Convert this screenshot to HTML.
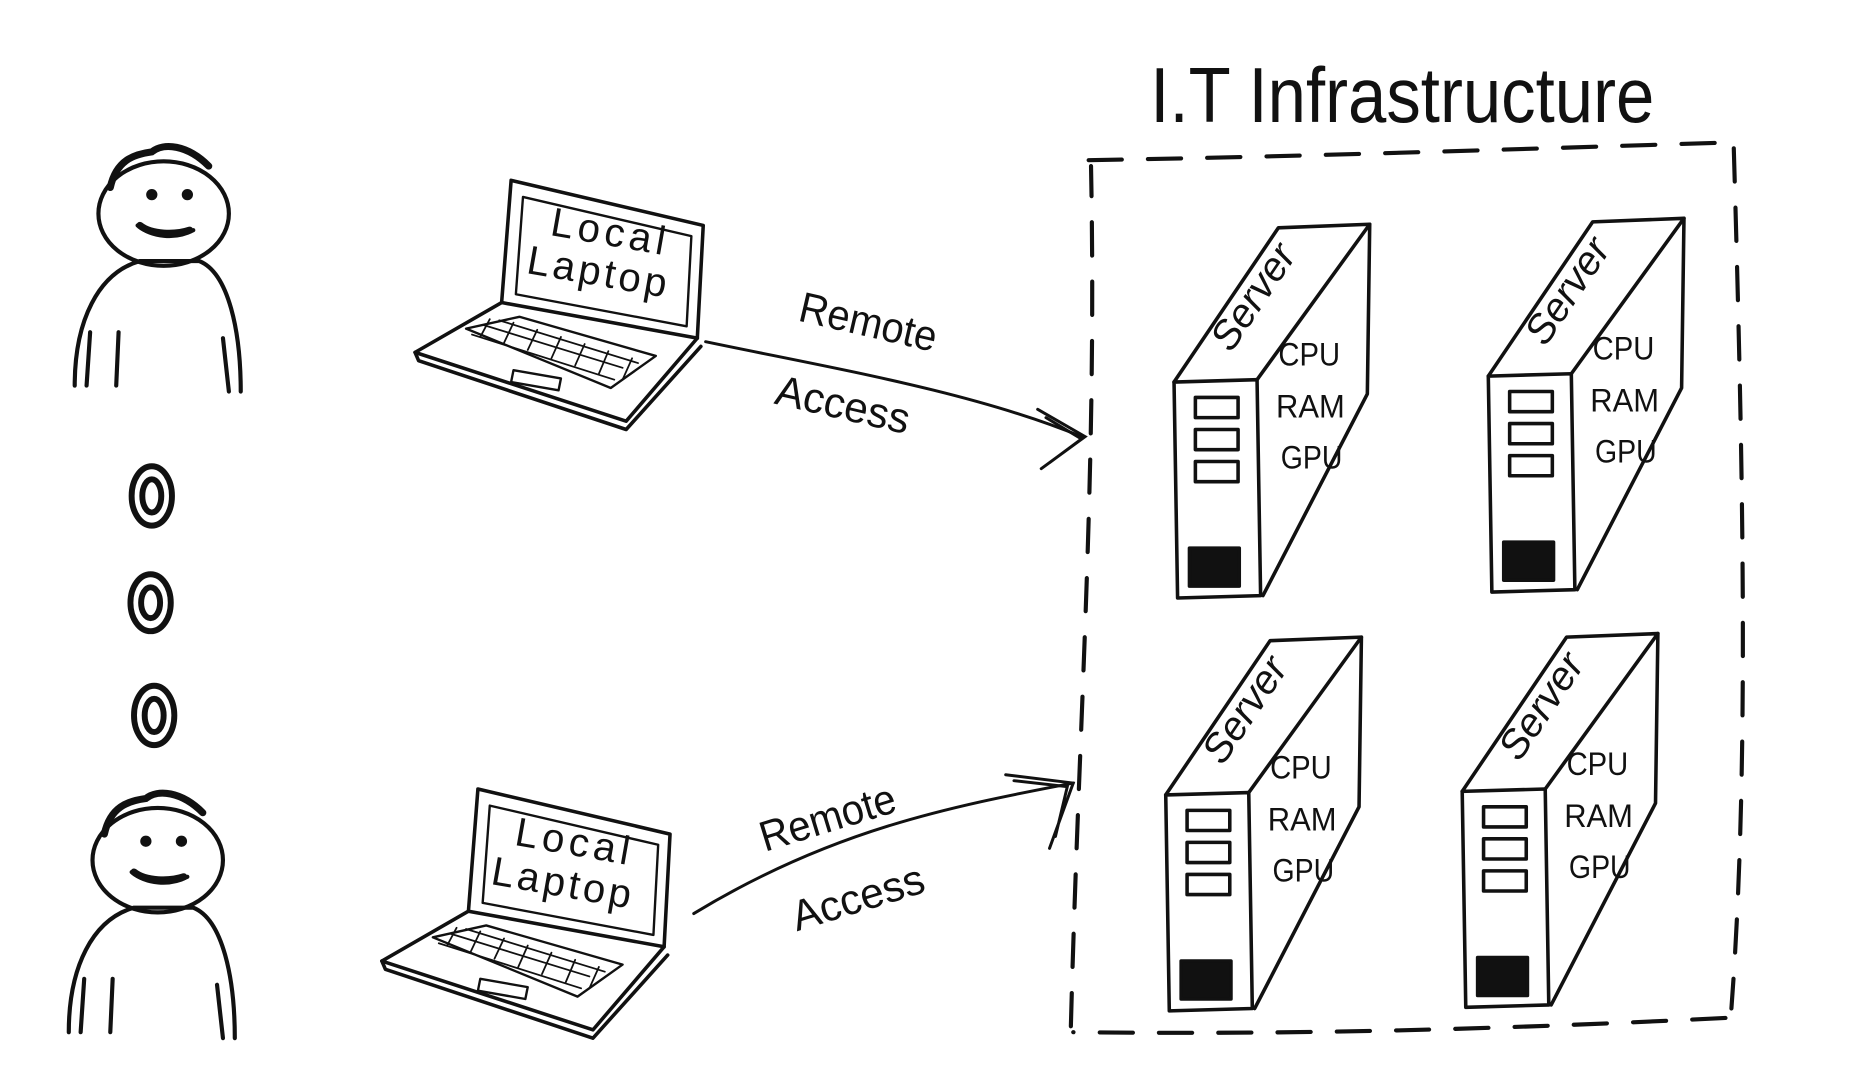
<!DOCTYPE html>
<html><head><meta charset="utf-8"><style>
html,body{margin:0;padding:0;background:#fff;width:1850px;height:1069px;overflow:hidden}
svg{display:block}
text{font-family:"Liberation Sans",sans-serif;fill:#111}
</style></head><body>
<svg width="1850" height="1069" viewBox="0 0 1560 901" preserveAspectRatio="none" xmlns="http://www.w3.org/2000/svg">
<defs>
<g id="server" fill="none" stroke="#111" stroke-width="3" stroke-linejoin="round" stroke-linecap="round">
  <path d="M0,2 L70,0 L73,182 L3,184 Z" fill="#fff"/>
  <path d="M0,2 L88,-128 L165,-131 L70,0"/>
  <path d="M165,-131 L163,12 L75,182"/>
  <rect x="18" y="15" width="36" height="17"/>
  <rect x="18" y="42" width="36" height="17"/>
  <rect x="18" y="69" width="36" height="17"/>
  <rect x="13" y="142" width="42" height="32" fill="#111"/>
  <text x="0" y="0" transform="translate(48,-22) rotate(-56)" font-size="34" style="font-style:italic" stroke="none" fill="#111">Server</text>
  <text x="88" y="-12" font-size="27" stroke="none" fill="#111" textLength="52" lengthAdjust="spacingAndGlyphs">CPU</text>
  <text x="86" y="32" font-size="27" stroke="none" fill="#111" textLength="58" lengthAdjust="spacingAndGlyphs">RAM</text>
  <text x="90" y="75" font-size="27" stroke="none" fill="#111" textLength="52" lengthAdjust="spacingAndGlyphs">GPU</text>
</g>
<g id="person" fill="none" stroke="#111" stroke-width="3.5" stroke-linecap="round">
  <ellipse cx="0" cy="0" rx="55" ry="44"/>
  <path d="M-45,-22 C-40,-45 -25,-50 -10,-52 C0,-60 20,-58 38,-40" stroke-width="6"/>
  <circle cx="-10" cy="-16" r="3" fill="#111"/>
  <circle cx="20" cy="-16" r="3" fill="#111"/>
  <path d="M-22,10 C-10,20 10,22 25,14"/>
  <path d="M-20,10 C-10,18 10,18 22,14" stroke-width="6"/>
  <path d="M-75,145 C-75,90 -55,50 -20,40 L30,40 C55,50 65,100 65,150"/>
  <path d="M-65,145 L-62,100 M-40,145 L-38,100 M55,150 L50,105"/>
</g>
<g id="laptop" fill="none" stroke="#111" stroke-width="3" stroke-linejoin="round" stroke-linecap="round">
  <path d="M8,0 L170,38 L165,133 L0,103 Z"/>
  <path d="M18,14 L160,47 L156,123 L12,96 Z" stroke-width="2"/>
  <path d="M0,103 L-73,145 L105,203 L165,133"/>
  <path d="M-73,145 L-70,152 L105,210 L168,140"/>
  <path d="M-30,125 L15,115 L130,148 L92,175 Z" stroke-width="2"/>
  <path d="M-15,122 L102,158 M-2,118 L115,154 M-25,130 L95,168 M-10,117 L-18,132 M10,120 L2,137 M30,126 L22,143 M50,132 L42,150 M70,138 L62,156 M90,144 L82,163 M110,150 L102,168" stroke-width="1.5"/>
  <path d="M10,160 L50,167 L48,177 L8,170 Z" stroke-width="2"/>
</g>
</defs>

<text x="970" y="103" font-size="66" textLength="425" lengthAdjust="spacingAndGlyphs">I.T Infrastructure</text>

<g fill="none" stroke="#111" stroke-width="3.5" stroke-dasharray="28,22" stroke-linecap="round">
  <path d="M918,135 C1100,132 1300,125 1460,120"/>
  <path d="M1462,125 C1470,400 1475,650 1460,850"/>
  <path d="M1455,858 C1250,868 1100,872 905,870"/>
  <path d="M903,865 C910,600 925,400 920,140"/>
</g>

<use href="#person" x="138" y="180"/>
<use href="#person" x="133" y="725"/>

<g fill="none" stroke="#111" stroke-width="5">
  <ellipse cx="128" cy="418" rx="17" ry="25"/><ellipse cx="128" cy="418" rx="8" ry="14"/>
  <ellipse cx="127" cy="508" rx="17" ry="24"/><ellipse cx="127" cy="508" rx="8" ry="13"/>
  <ellipse cx="130" cy="603" rx="17" ry="25"/><ellipse cx="130" cy="603" rx="8" ry="14"/>
</g>

<use href="#laptop" x="423" y="152"/>
<use href="#laptop" x="395" y="665"/>
<text transform="translate(463,198) rotate(10)" font-size="34" letter-spacing="4">Local</text>
<text transform="translate(443,230) rotate(10)" font-size="34" letter-spacing="3">Laptop</text>
<text transform="translate(433,712) rotate(10)" font-size="34" letter-spacing="4">Local</text>
<text transform="translate(413,745) rotate(10)" font-size="34" letter-spacing="3">Laptop</text>

<g fill="none" stroke="#111" stroke-width="2.5" stroke-linecap="round">
  <path d="M595,288 C700,310 820,330 912,368"/>
  <path d="M875,345 L915,368 L878,395 M882,352 L912,370 L885,390"/>
  <path d="M585,770 C700,700 800,680 905,660"/>
  <path d="M848,653 L905,660 L885,715 M855,658 L900,663 L890,705"/>
</g>
<text transform="translate(672,270) rotate(13)" font-size="36" textLength="118" lengthAdjust="spacingAndGlyphs">Remote</text>
<text transform="translate(652,340) rotate(13)" font-size="36" textLength="115" lengthAdjust="spacingAndGlyphs">Access</text>
<text transform="translate(645,718) rotate(-17)" font-size="36" textLength="118" lengthAdjust="spacingAndGlyphs">Remote</text>
<text transform="translate(672,785) rotate(-17)" font-size="36" textLength="115" lengthAdjust="spacingAndGlyphs">Access</text>

<use href="#server" x="990" y="320"/>
<use href="#server" x="1255" y="315"/>
<use href="#server" x="983" y="668"/>
<use href="#server" x="1233" y="665"/>
</svg>
</body></html>
